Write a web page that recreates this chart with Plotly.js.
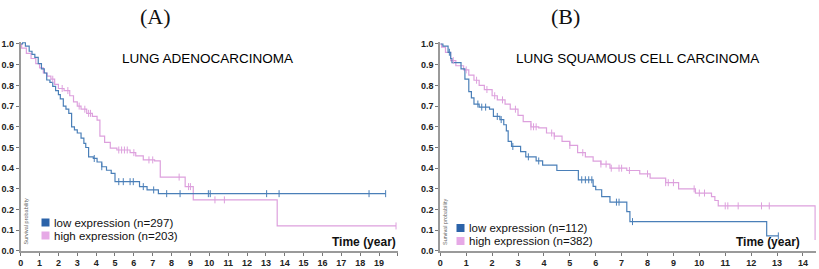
<!DOCTYPE html>
<html><head><meta charset="utf-8">
<script src="https://cdn.plot.ly/plotly-3.0.1.min.js"></script>
<style>html,body{margin:0;padding:0;background:#fff}#c{width:819px;height:269px}</style>
</head><body><div id="c"></div>
<script>
// Panel A: lung adenocarcinoma
const tA_low = [0,0.1,0.25,0.45,0.6,0.75,0.93,1.1,1.25,1.38,1.55,1.7,1.85,2.0,2.1,2.26,2.4,2.55,2.7,2.85,3.0,3.2,3.35,3.45,3.6,3.85,4.05,4.3,4.55,4.8,5.0,6.3,6.7,7.3,19.35];
const sA_low = [1.0,1.006,0.99,0.965,0.95,0.935,0.905,0.88,0.86,0.826,0.815,0.795,0.775,0.755,0.735,0.7,0.685,0.665,0.6,0.585,0.57,0.545,0.52,0.5,0.455,0.447,0.43,0.407,0.39,0.375,0.335,0.311,0.295,0.277,0.277];
const cA_low = [3.9,4.3,5.2,5.44,5.8,5.97,6.5,7.05,7.74,8.45,9.95,10.05,13.04,13.7,18.47,19.35];

const tA_high = [0,0.05,0.3,0.55,0.8,1.0,1.2,1.4,1.6,1.8,2.0,2.3,2.6,2.8,3.0,3.2,3.5,3.8,4.05,4.2,4.45,4.75,5.1,5.8,6.1,6.5,7.1,7.4,8.72,9.15,13.6,19.9];
const sA_high = [1.0,0.98,0.955,0.93,0.905,0.885,0.86,0.845,0.83,0.805,0.785,0.775,0.75,0.72,0.7,0.685,0.665,0.65,0.632,0.555,0.525,0.497,0.488,0.475,0.46,0.44,0.435,0.357,0.311,0.247,0.121,0.121];
const cA_high = [1.7,2.2,2.5,3.1,3.4,3.6,3.7,5.2,5.35,5.5,5.65,6.0,6.8,7.0,8.4,8.9,9.0,10.3,10.8,19.9];

// Panel B: lung squamous cell carcinoma
const tB_low = [0,0.1,0.3,0.4,0.45,0.8,0.95,1.1,1.2,1.3,1.5,1.9,2.05,2.3,2.45,2.55,2.62,2.75,3.1,3.3,3.7,3.95,4.5,5.33,5.9,6.0,6.23,6.55,7.2,7.32,12.6,13.05];
const sB_low = [1.0,0.99,0.96,0.93,0.91,0.88,0.83,0.77,0.74,0.71,0.695,0.685,0.65,0.635,0.61,0.58,0.53,0.505,0.48,0.455,0.435,0.415,0.389,0.344,0.312,0.296,0.263,0.236,0.19,0.142,0.073,0.073];
const cB_low = [0.35,1.45,1.6,1.75,2.2,2.35,2.8,3.4,3.8,5.46,5.6,5.73,5.85,6.8,6.9,7.42,13.05];

const tB_high = [0,0.05,0.2,0.4,0.6,0.9,1.1,1.3,1.5,1.7,2.0,2.2,2.5,2.7,3.0,3.2,3.5,3.8,4.1,4.4,4.7,5.0,5.3,5.6,5.9,6.2,6.55,7.2,7.7,8.1,8.7,9.2,9.85,10.47,10.6,10.73,14.47];
const sB_high = [1.0,0.985,0.96,0.92,0.895,0.875,0.85,0.825,0.8,0.78,0.75,0.73,0.71,0.685,0.655,0.625,0.6,0.595,0.57,0.555,0.53,0.51,0.475,0.455,0.434,0.42,0.4,0.389,0.373,0.352,0.33,0.3,0.28,0.263,0.244,0.218,0.053];
const cB_high = [0.5,1.0,1.4,1.8,2.1,2.4,2.9,3.5,3.6,3.7,4.3,4.4,5.0,5.5,6.2,6.4,6.6,6.9,7.0,7.3,8.0,8.7,8.8,9.0,9.8,10.0,10.2,11.0,11.1,11.5,12.4,12.7];

const ticksA = [0,1,2,3,4,5,6,7,8,9,10,11,12,13,14,15,16,17,18,19,20];
const ticksB = [0,1,2,3,4,5,6,7,8,9,10,11,12,13,14];
const yTicks = [0,0.1,0.2,0.3,0.4,0.5,0.6,0.7,0.8,0.9,1.0];
const legA = ['low expression (n=297)','high expression (n=203)'];
const legB = ['low expression (n=112)','high expression (n=382)'];

const blue = '#4a7fb8', pink = '#dda0dd';
const blueSq = '#2b63a9', pinkSq = '#e6a9e6';

function stepAt(ts, ss, t){ let v = ss[0]; for(let i=0;i<ts.length;i++){ if(ts[i]<=t) v=ss[i]; } return v; }
function curve(ts, ss, color, xa, ya){
  return {type:'scatter', mode:'lines', x:ts, y:ss, xaxis:xa, yaxis:ya, line:{shape:'hv', color:color, width:1.2}, showlegend:false, hoverinfo:'skip'};
}
function cens(ts, ss, cs, color, xa, ya){
  return {type:'scatter', mode:'markers', x:cs, y:cs.map(c=>stepAt(ts,ss,c)), xaxis:xa, yaxis:ya,
    marker:{symbol:'line-ns', size:5, color:color, line:{width:1, color:color}}, showlegend:false, hoverinfo:'skip'};
}

const data = [
  curve(tA_high, sA_high, pink, 'x', 'y'),
  curve(tA_low, sA_low, blue, 'x', 'y'),
  cens(tA_high, sA_high, cA_high, pink, 'x', 'y'),
  cens(tA_low, sA_low, cA_low, blue, 'x', 'y'),
  curve(tB_high, sB_high, pink, 'x2', 'y2'),
  curve(tB_low, sB_low, blue, 'x2', 'y2'),
  cens(tB_high, sB_high, cB_high, pink, 'x2', 'y2'),
  cens(tB_low, sB_low, cB_low, blue, 'x2', 'y2')
];

const tickFont = {family:'Liberation Sans, Arial, sans-serif', size:9, color:'#222', weight:'bold'};
function xax(dom, rng, ticks){
  return {domain:dom, range:rng, showgrid:false, zeroline:false, showline:true, linecolor:'#9a9a9a', linewidth:1.5,
    ticks:'outside', ticklen:3, tickwidth:1, tickcolor:'#777', tickvals:ticks,
    ticktext:ticks.map(v=> v===20 ? '' : String(v)), tickfont:tickFont, fixedrange:true};
}
function yax(anchor){
  return {domain:[0.06691,0.84413], range:[0,1.01], anchor:anchor, showgrid:false, zeroline:false, showline:true,
    linecolor:'#9a9a9a', linewidth:2, ticks:'outside', ticklen:3, tickwidth:1, tickcolor:'#777',
    tickvals:yTicks, ticktext:yTicks.map(v=>v.toFixed(1)), tickfont:tickFont, fixedrange:true};
}

const ann = [];
const shapes = [];
function txt(x,y,text,font,extra){ ann.push(Object.assign({xref:'paper',yref:'paper',x:x/819,y:1-y/269,text:text,showarrow:false,font:font,xanchor:'center',yanchor:'middle',borderpad:0},extra||{})); }
const serif = {family:'Liberation Serif, DejaVu Serif, serif', size:22, color:'#111'};
txt(155,17,'(A)',serif);
txt(565,17,'(B)',serif);
const ttl = {family:'Liberation Sans, Arial, sans-serif', size:13.5, color:'#000'};
txt(207,58,'LUNG ADENOCARCINOMA',ttl);
txt(637,58,'LUNG SQUAMOUS CELL CARCINOMA',ttl);
const tf = {family:'Liberation Sans, Arial, sans-serif', size:12, color:'#111', weight:'bold'};
txt(364,242,'Time (year)',tf);
txt(768,242,'Time (year)',tf);
const sp = {family:'Liberation Sans, Arial, sans-serif', size:5.5, color:'#666'};
txt(25.5,222,'Survival probability',sp,{textangle:-90});
txt(445,222,'Survival probability',sp,{textangle:-90});
const lf = {family:'Liberation Sans, Arial, sans-serif', size:11.5, color:'#111'};
function leg(x,y,col,label){
  shapes.push({type:'rect', xref:'paper', yref:'paper', x0:(x-11.5)/819, x1:(x-3.5)/819, y0:1-(y+4)/269, y1:1-(y-4)/269, fillcolor:col, line:{width:0}});
  txt(x,y,label,lf,{xanchor:'left'});
}
leg(53,222.5,blueSq,legA[0]);
leg(53,235.5,pinkSq,legA[1]);
leg(468,228,blueSq,legB[0]);
leg(468,241,pinkSq,legB[1]);

const layout = {
  width:819, height:269, margin:{l:0,r:0,t:0,b:0}, paper_bgcolor:'#fff', plot_bgcolor:'rgba(0,0,0,0)',
  showlegend:false,
  xaxis: xax([0.02527,0.48584],[0,20],ticksA),
  yaxis: yax('x'),
  xaxis2: Object.assign(xax([0.53761,0.99621],[0,14.5],ticksB),{anchor:'y2'}),
  yaxis2: yax('x2'),
  annotations: ann,
  shapes: shapes
};
layout.xaxis.anchor = 'y';
Plotly.newPlot('c', data, layout, {staticPlot:true, displayModeBar:false});
</script></body></html>
